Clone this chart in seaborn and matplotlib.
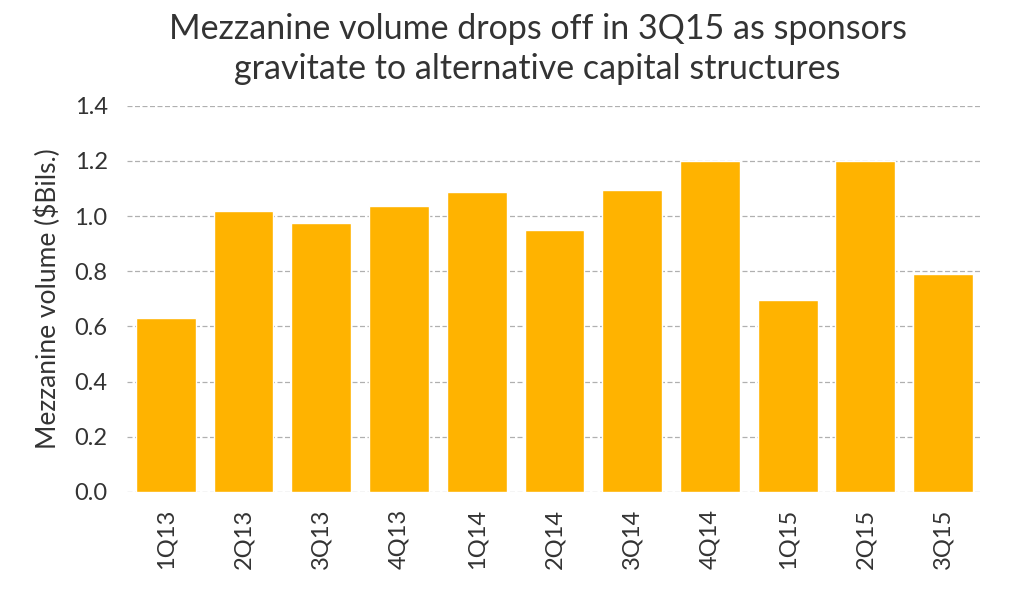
import pandas as pd
import matplotlib
matplotlib.use('Agg')
import matplotlib.pyplot as plt
import seaborn as sns

quarters = ['1Q13', '2Q13', '3Q13', '4Q13', '1Q14', '2Q14', '3Q14', '4Q14', '1Q15', '2Q15', '3Q15']
volume = [0.632, 1.017, 0.973, 1.038, 1.086, 0.948, 1.096, 1.198, 0.696, 1.198, 0.791]

df = pd.DataFrame({'quarter': quarters, 'volume': volume})

sns.set_style('white')
plt.rcParams['font.family'] = ['Lato', 'DejaVu Sans']

fig = plt.figure(figsize=(10.24, 6.11), dpi=100)
ax = fig.add_axes([0.124, 0.195, 0.835, 0.632])

sns.barplot(data=df, x='quarter', y='volume', color='#FFB300', saturation=1, width=0.77, ax=ax, zorder=3)

ticks = [0, 0.2, 0.4, 0.6, 0.8, 1.0, 1.2, 1.4]
ax.set_ylim(0, 1.4)
ax.set_yticks(ticks)
ax.set_yticklabels([f'{v:.1f}' for v in ticks])
ax.yaxis.grid(True, linestyle=(0, (4, 2)), color='#b0b0b0', linewidth=0.9, zorder=0)
ax.set_axisbelow(True)
for s in ax.spines.values():
    s.set_visible(False)
ax.tick_params(axis='both', length=0, labelsize=17, colors='#333333')
ax.tick_params(axis='y', pad=14)
ax.tick_params(axis='x', pad=12)
plt.setp(ax.get_xticklabels(), rotation=90)
ax.set_xlabel('')
ax.set_ylabel('Mezzanine volume ($Bils.)', fontsize=19, color='#333333', labelpad=10)
ax.set_xlim(-0.5, len(quarters) - 0.5)

fig.suptitle('Mezzanine volume drops off in 3Q15 as sponsors\ngravitate to alternative capital structures',
             fontsize=24.5, color='#333333', x=0.525, y=0.978, linespacing=1.3)

fig.savefig('out.png', dpi=100)
